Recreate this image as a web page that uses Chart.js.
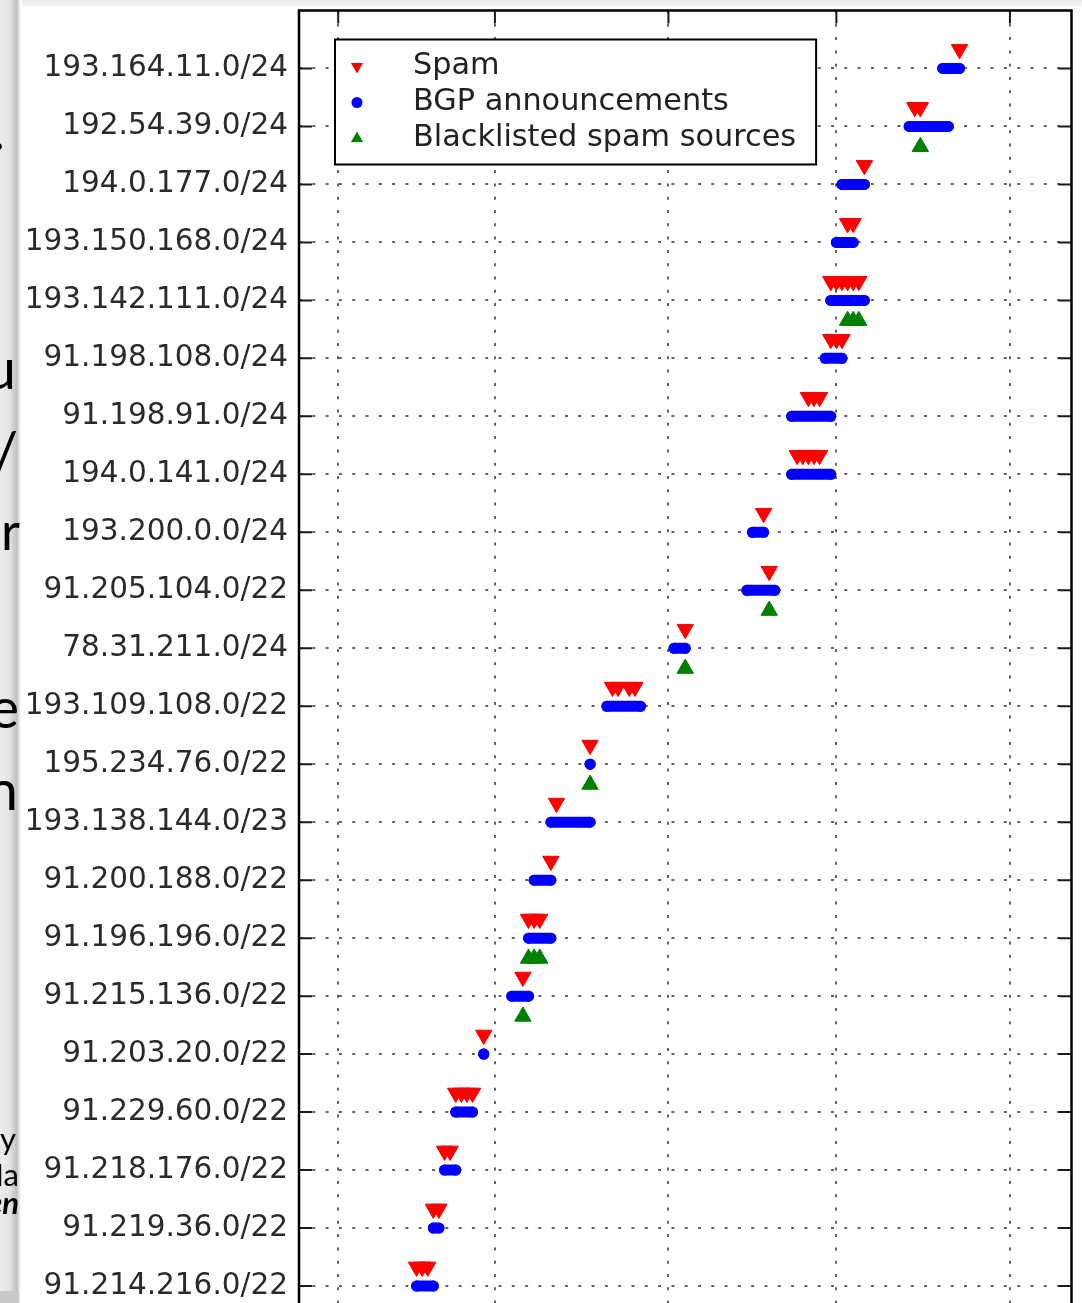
<!DOCTYPE html>
<html>
<head>
<meta charset="utf-8">
<script src="https://cdn.jsdelivr.net/npm/chart.js@4.4.0/dist/chart.umd.min.js"></script>
<style>
  html, body { margin: 0; padding: 0; background: #fff; overflow: hidden; }
  #wrap { position: relative; width: 1082px; height: 1303px; overflow: hidden; }
  #topband { position: absolute; left: 0; top: 0; width: 1082px; height: 7px;
    background: linear-gradient(to bottom, #e9e9e9, #f8f8f8); }
  #strip { position: absolute; left: 0; top: 0; width: 22px; height: 1303px;
    background: linear-gradient(to right, #ececec 0, #e3e3e3 10px, #d2d2d2 13px, #c0c0c0 17px, #e4e4e4 19px, #fff 21px); }
  #stripfoot { position: absolute; left: 0; top: 1291px; width: 19px; height: 12px; background: #c9c9c9; }
  #chart { position: absolute; left: 0; top: 0; }
  #slide { position: absolute; left: 0; top: 0; }
</style>
</head>
<body>
<div id="wrap">
  <div id="topband"></div>
  <div id="strip"></div>
  <div id="stripfoot"></div>
  <canvas id="chart" width="1082" height="1400"></canvas>
  <svg id="slide" width="24" height="1303">
    <g font-family="Lato" fill="#000" text-anchor="end">
      <text x="5" y="150" font-size="56">.</text>
      <text x="16" y="389" font-size="56">u</text>
      <text x="18" y="472" font-size="56">/</text>
      <text x="20" y="550" font-size="52">or</text>
      <text x="19" y="728" font-size="56">e</text>
      <text x="18" y="810" font-size="56">n</text>
      <text x="16" y="1150" font-size="31">ry</text>
      <text x="19" y="1186" font-size="31">Ma</text>
      <text x="19" y="1214" font-size="31" font-weight="bold" font-style="italic">en</text>
    </g>
  </svg>
</div>
<script>
// prefixes from the bottom row (y = 0) to the top row (y = 21)
const prefixes = [
    '91.214.216.0/22', '91.219.36.0/22', '91.218.176.0/22', '91.229.60.0/22',
    '91.203.20.0/22', '91.215.136.0/22', '91.196.196.0/22', '91.200.188.0/22',
    '193.138.144.0/23', '195.234.76.0/22', '193.109.108.0/22', '78.31.211.0/24',
    '91.205.104.0/22', '193.200.0.0/24', '194.0.141.0/24', '91.198.91.0/24',
    '91.198.108.0/24', '193.142.111.0/24', '193.150.168.0/24', '194.0.177.0/24',
    '192.54.39.0/24', '193.164.11.0/24'
];

// days, counted from the first vertical gridline
const bgpFirstDay = [14, 17, 19, 21, 26, 31, 34, 35, 38, 45, 48, 60, 73, 74, 81, 81, 87, 88, 89, 90, 102, 108];
const bgpLastDay = [17, 18, 21, 24, 26, 34, 38, 38, 45, 45, 54, 62, 78, 76, 88, 88, 90, 94, 92, 94, 109, 111];

const spamDays = [
    [14, 15, 16], [17, 18], [19, 20], [21, 22, 23, 24], [26], [33], [34, 35, 36], [38],
    [39], [45], [49, 50, 52, 53], [62], [77], [76], [82, 83, 84, 85, 86], [84, 85, 86],
    [88, 89, 90], [88, 89, 90, 91, 92, 93], [91, 92], [94], [103, 104], [111]
];

const blacklistDays = [
    [], [], [], [], [], [33], [34, 35, 36], [],
    [], [45], [], [62], [77], [], [], [],
    [], [91, 92, 93], [], [], [104], []
];

// month boundaries used for the vertical grid
const gridDays = [0, 28, 59, 89, 120];
const dayMin = -7;
const dayMax = 131;

const RED = '#ff0000', BLUE = '#0000ff', GREEN = '#008000';
const FONT = "'DejaVu Sans'";

const spamPoints = [];
spamDays.forEach((days, row) => days.forEach(d => spamPoints.push({x: d, y: row + 0.33})));

const blacklistPoints = [];
blacklistDays.forEach((days, row) => days.forEach(d => blacklistPoints.push({x: d, y: row - 0.35})));

// one short thick line per prefix for the announcement period
const bgpSets = prefixes.map((p, row) => ({
    type: 'line',
    label: 'BGP announcements',
    data: [{x: bgpFirstDay[row], y: row}, {x: bgpLastDay[row], y: row}],
    showLine: true,
    borderColor: BLUE,
    backgroundColor: BLUE,
    borderWidth: 11,
    borderCapStyle: 'round',
    pointRadius: 5.5,
    pointBorderWidth: 0,
    fill: false
}));

function drawMarker(ctx, shape, x, y, r, color) {
    ctx.fillStyle = color;
    ctx.beginPath();
    if (shape === 'circle') {
        ctx.arc(x, y, r, 0, Math.PI * 2);
    } else {
        const s = shape === 'down' ? -1 : 1;
        ctx.moveTo(x, y - s * r);
        ctx.lineTo(x + r * 0.866, y + s * r * 0.5);
        ctx.lineTo(x - r * 0.866, y + s * r * 0.5);
        ctx.closePath();
    }
    ctx.fill();
}

// frame + inward tick marks, like the matplotlib axes
const frame = {
    id: 'frame',
    afterDraw(chart) {
        const {ctx, chartArea: a, scales} = chart;
        ctx.save();
        ctx.strokeStyle = '#1a1a1a';
        ctx.lineWidth = 2;
        ctx.beginPath();
        scales.y.ticks.forEach(t => {
            const py = scales.y.getPixelForValue(t.value);
            ctx.moveTo(a.left, py); ctx.lineTo(a.left + 13, py);
            ctx.moveTo(a.right, py); ctx.lineTo(a.right - 13, py);
        });
        scales.x.ticks.forEach(t => {
            const px = scales.x.getPixelForValue(t.value);
            ctx.moveTo(px, a.top); ctx.lineTo(px, a.top + 13);
            ctx.moveTo(px, a.bottom); ctx.lineTo(px, a.bottom - 13);
        });
        ctx.stroke();
        ctx.strokeStyle = '#000';
        ctx.lineWidth = 2.5;
        ctx.strokeRect(a.left, a.top, a.right - a.left, a.bottom - a.top);
        ctx.restore();
    }
};

const boxLegend = {
    id: 'boxLegend',
    afterDraw(chart) {
        const {ctx, chartArea} = chart;
        const ds = chart.data.datasets;
        const items = [
            {label: ds[0].label, color: ds[0].backgroundColor, shape: 'down'},
            {label: ds[2].label, color: ds[2].backgroundColor, shape: 'circle'},
            {label: ds[1].label, color: ds[1].backgroundColor, shape: 'up'}
        ];
        ctx.save();
        ctx.font = '30.3px ' + FONT;
        const textW = Math.max(...items.map(it => ctx.measureText(it.label).width));
        const left = chartArea.left + 36;
        const top = chartArea.top + 29;
        const w = 78 + textW + 20;
        const h = 125;
        ctx.fillStyle = '#fff';
        ctx.fillRect(left, top, w, h);
        ctx.strokeStyle = '#000';
        ctx.lineWidth = 2;
        ctx.strokeRect(left, top, w, h);
        items.forEach((it, i) => {
            const y = top + 27 + i * 36;
            drawMarker(ctx, it.shape, left + 22, y, it.shape === 'circle' ? 5.5 : 7, it.color);
            ctx.fillStyle = '#222';
            ctx.textBaseline = 'middle';
            ctx.textAlign = 'left';
            ctx.fillText(it.label, left + 78, y);
        });
        ctx.restore();
    }
};

const gridDash = [3, 10.3];

new Chart(document.getElementById('chart'), {
    type: 'scatter',
    data: {
        datasets: [
            {
                label: 'Spam',
                data: spamPoints,
                backgroundColor: RED,
                borderColor: RED,
                pointStyle: 'triangle',
                pointRotation: 180,
                pointRadius: 9.5,
                pointBorderWidth: 1
            },
            {
                label: 'Blacklisted spam sources',
                data: blacklistPoints,
                backgroundColor: GREEN,
                borderColor: GREEN,
                pointStyle: 'triangle',
                pointRadius: 9.5,
                pointBorderWidth: 1
            },
            ...bgpSets
        ]
    },
    options: {
        responsive: false,
        animation: false,
        events: [],
        layout: {padding: {top: 9, right: 9, left: 0, bottom: 0}},
        plugins: {
            legend: {display: false},
            tooltip: {enabled: false}
        },
        scales: {
            x: {
                type: 'linear',
                min: dayMin,
                max: dayMax,
                afterBuildTicks: s => { s.ticks = gridDays.map(v => ({value: v})); },
                afterFit: s => { s.height = 56; s.paddingLeft = 0; s.paddingRight = 0; },
                ticks: {display: false},
                grid: {color: 'rgba(50,50,50,0.75)', lineWidth: 2, drawTicks: false},
                border: {display: false, dash: gridDash}
            },
            y: {
                type: 'linear',
                min: -1,
                max: 22,
                afterBuildTicks: s => { s.ticks = prefixes.map((p, i) => ({value: i})); },
                afterFit: s => { s.width = 299; s.paddingTop = 0; s.paddingBottom = 0; },
                ticks: {
                    autoSkip: false,
                    padding: 11,
                    color: '#2a2a2a',
                    font: {family: FONT, size: 29.5},
                    callback: v => prefixes[v]
                },
                grid: {color: 'rgba(50,50,50,0.75)', lineWidth: 2, drawTicks: false},
                border: {display: false, dash: gridDash}
            }
        }
    },
    plugins: [frame, boxLegend]
});
</script>
</body>
</html>
